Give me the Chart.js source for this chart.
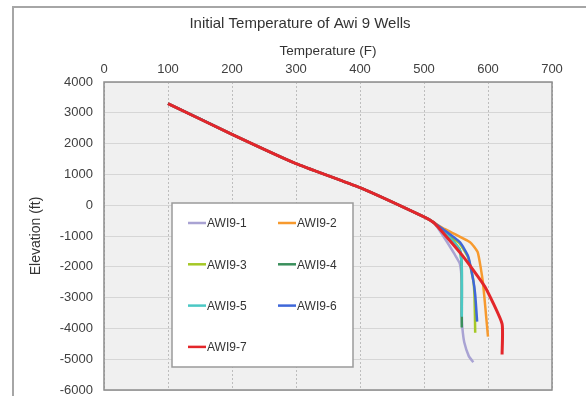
<!DOCTYPE html>
<html>
<head>
<meta charset="utf-8">
<script src="https://cdn.jsdelivr.net/npm/chart.js@4.4.1/dist/chart.umd.min.js"></script>
<style>
  html, body { margin: 0; padding: 0; background: #fff; }
  #wrap { width: 586px; height: 396px; }
</style>
</head>
<body>
<div id="wrap"><canvas id="TempChart"></canvas></div>
<script>
// shared upper part of the profile (all wells overlap here)
var topTemp = [100, 200, 300, 400, 500, 515];
var topElev = [3300, 2300, 1350, 570, -380, -560];

// lower part, well by well
var awi1Temp = [530, 548, 556, 559, 559, 560, 563, 570, 577];
var awi1Elev = [-1000, -1600, -1900, -2500, -3600, -4000, -4460, -4900, -5100];
var awi2Temp = [533, 572, 584, 592, 600];
var awi2Elev = [-780, -1200, -1530, -2500, -4270];
var awi3Temp = [540, 556, 569, 577, 579, 580];
var awi3Elev = [-1000, -1250, -1700, -2440, -3000, -4140];
var awi4Temp = [540, 556, 559, 559];
var awi4Elev = [-1050, -1450, -2000, -3970];
var awi5Temp = [540, 556, 559, 559];
var awi5Elev = [-1050, -1450, -2000, -3620];
var awi6Temp = [556, 569, 577, 580, 583];
var awi6Elev = [-1200, -1660, -2440, -2900, -3780];
var awi7Temp = [525, 561, 595, 622, 622];
var awi7Elev = [-780, -1660, -2640, -3850, -4850];

var wellNames = ['AWI9-1', 'AWI9-2', 'AWI9-3', 'AWI9-4', 'AWI9-5', 'AWI9-6', 'AWI9-7'];
var wellColors = ['#a9a3d3', '#f79a2e', '#a5c826', '#3a8f5c', '#4bc8c4', '#3f67d9', '#e3262a'];
var xTicks = [0, 100, 200, 300, 400, 500, 600, 700];
var yTicks = [4000, 3000, 2000, 1000, 0, -1000, -2000, -3000, -4000, -5000, -6000];

function toPoints(t, e) {
  var all_t = topTemp.concat(t);
  var all_e = topElev.concat(e);
  return all_t.map(function(v, i) { return { x: v, y: all_e[i] }; });
}

var wellTemps = [awi1Temp, awi2Temp, awi3Temp, awi4Temp, awi5Temp, awi6Temp, awi7Temp];
var wellElevs = [awi1Elev, awi2Elev, awi3Elev, awi4Elev, awi5Elev, awi6Elev, awi7Elev];

var Tdata = {
  datasets: wellNames.map(function(n, i) {
    return {
      label: n,
      data: toPoints(wellTemps[i], wellElevs[i]),
      borderColor: wellColors[i],
      backgroundColor: wellColors[i],
      borderWidth: i == 6 ? 3 : 2.5,
      showLine: true,
      pointRadius: 0,
      tension: 0.15,
      order: wellNames.length - i   // later wells on top, red last
    };
  })
};

var FONT = '"Liberation Sans", Arial, sans-serif';

// gray frame + plot background
const frame = {
  id: 'frame',
  beforeDraw(chart) {
    var ctx = chart.ctx, a = chart.chartArea;
    ctx.save();
    ctx.strokeStyle = '#a6a6a6';
    ctx.lineWidth = 2;
    ctx.strokeRect(13, 7, 600, 420);
    ctx.fillStyle = '#f0f0f0';
    ctx.fillRect(a.left, a.top, a.right - a.left, a.bottom - a.top);
    ctx.restore();
  },
  beforeDatasetsDraw(chart) {
    var ctx = chart.ctx, a = chart.chartArea;
    ctx.save();
    ctx.strokeStyle = '#8c8c8c';
    ctx.lineWidth = 1.5;
    ctx.strokeRect(a.left, a.top, a.right - a.left, a.bottom - a.top);
    ctx.restore();
  }
};

// legend box inside the plot
const legendBox = {
  id: 'legendBox',
  afterDatasetsDraw(chart) {
    var ctx = chart.ctx;
    ctx.save();
    ctx.fillStyle = '#ffffff';
    ctx.fillRect(172, 203, 181, 164);
    ctx.strokeStyle = '#9a9a9a';
    ctx.lineWidth = 1.5;
    ctx.strokeRect(172, 203, 181, 164);
    ctx.font = '12px ' + FONT;
    ctx.textBaseline = 'middle';
    chart.data.datasets.forEach(function(ds, i) {
      var x = 188 + (i % 2) * 90;
      var y = 223 + Math.floor(i / 2) * 41.3;
      ctx.strokeStyle = ds.borderColor;
      ctx.lineWidth = 2.5;
      ctx.beginPath();
      ctx.moveTo(x, y);
      ctx.lineTo(x + 18, y);
      ctx.stroke();
      ctx.fillStyle = '#333333';
      ctx.fillText(ds.label, x + 19, y + 1);
    });
    ctx.restore();
  }
};

const Tconfig = {
  type: 'scatter',
  data: Tdata,
  options: {
    responsive: true,
    maintainAspectRatio: false,
    animation: false,
    layout: { padding: { left: 14, right: 0, top: 8, bottom: 6 } },
    plugins: {
      legend: { display: false },
      tooltip: { enabled: false },
      title: {
        display: true,
        text: 'Initial Temperature of Awi 9 Wells',
        color: '#333',
        padding: { top: 7, bottom: 6 },
        font: { family: FONT, size: 15, weight: 'normal' }
      }
    },
    scales: {
      x: {
        type: 'linear',
        position: 'top',
        min: 0,
        max: 700,
        afterBuildTicks: function(s) { s.ticks = xTicks.map(function(v) { return { value: v }; }); },
        afterFit: function(s) { s.height = 43; },
        ticks: {
          padding: 5, color: '#404040', font: { family: FONT, size: 13 },
          callback: function(v) { return String(v); }
        },
        grid: { color: '#bdbdbd', drawTicks: false },
        border: { display: false, dash: [2, 2] },   // dotted vertical grid
        title: {
          display: true,
          text: 'Temperature (F)',
          color: '#333',
          padding: { top: 4, bottom: 0 },
          font: { family: FONT, size: 13.5 }
        }
      },
      y: {
        type: 'linear',
        position: 'left',
        min: -6000,
        max: 4000,
        afterBuildTicks: function(s) { s.ticks = yTicks.map(function(v) { return { value: v }; }); },
        afterFit: function(s) { s.width = 90; s.paddingTop = 0; s.paddingBottom = 0; },
        ticks: {
          padding: 11, color: '#404040', font: { family: FONT, size: 13 },
          callback: function(v) { return String(v); }
        },
        grid: { color: '#d6d6d6', drawTicks: false },
        border: { display: false },
        title: {
          display: true,
          text: 'Elevation (ft)',
          color: '#333',
          padding: { top: 14, bottom: 0 },
          font: { family: FONT, size: 14 }
        }
      },
      y2: {
        type: 'linear',
        position: 'right',
        display: true,
        afterFit: function(s) { s.width = 34; s.paddingTop = 0; s.paddingBottom = 0; },
        ticks: { display: false },
        grid: { display: false },
        border: { display: false }
      }
    }
  },
  plugins: [frame, legendBox]
};

var TempChart = new Chart(
  document.getElementById('TempChart'),
  Tconfig
);
</script>
</body>
</html>
